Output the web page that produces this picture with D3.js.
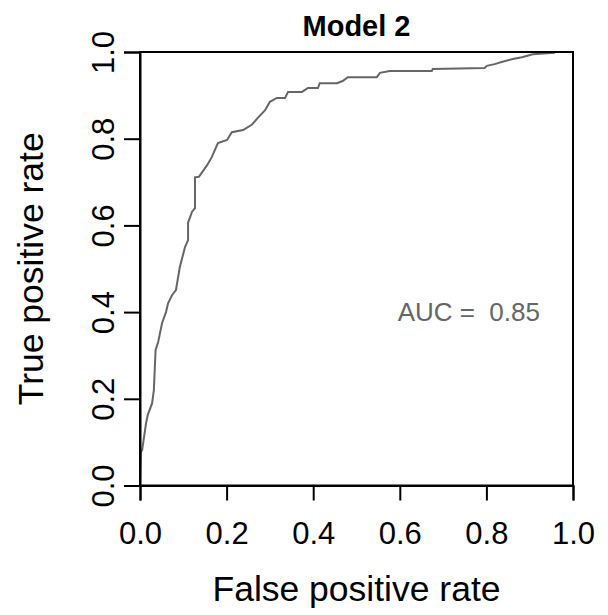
<!DOCTYPE html>
<html>
<head>
<meta charset="utf-8">
<script src="https://cdn.jsdelivr.net/npm/d3@7"></script>
<style>
  body { margin: 0; background: #fff; }
  text { font-family: "Liberation Sans", Arial, sans-serif; }
</style>
</head>
<body>
<div id="chart"></div>
<script>
// ROC curve points
const fpr = [0, 0.002, 0.005, 0.014, 0.018, 0.028, 0.032, 0.036, 0.042, 0.051, 0.060, 0.065, 0.074, 0.083,
  0.092, 0.104, 0.111, 0.111, 0.120, 0.127, 0.127, 0.136, 0.155, 0.166, 0.180, 0.201, 0.212, 0.238, 0.258,
  0.272, 0.289, 0.300, 0.316, 0.335, 0.342, 0.374, 0.388, 0.411, 0.415, 0.455, 0.468, 0.480, 0.547, 0.554,
  0.577, 0.674, 0.676, 0.796, 0.801, 0.819, 0.835, 0.861, 0.882, 0.907, 0.958];
const tpr = [0, 0.077, 0.082, 0.144, 0.163, 0.190, 0.220, 0.313, 0.331, 0.375, 0.400, 0.421, 0.439, 0.451,
  0.504, 0.550, 0.566, 0.606, 0.631, 0.640, 0.711, 0.712, 0.739, 0.758, 0.790, 0.797, 0.815, 0.820, 0.832,
  0.848, 0.866, 0.885, 0.894, 0.894, 0.908, 0.908, 0.917, 0.917, 0.928, 0.928, 0.933, 0.942, 0.942, 0.952,
  0.956, 0.956, 0.961, 0.963, 0.968, 0.972, 0.977, 0.984, 0.988, 0.995, 0.998];
const ticks = [0, 0.2, 0.4, 0.6, 0.8, 1.0];
const auc = 0.85;

const width = 608, height = 615;
const margin = {top: 52, right: 35, bottom: 129.5, left: 140};

const svg = d3.select("#chart").append("svg")
    .attr("width", width)
    .attr("height", height);

const x = d3.scaleLinear().domain([0, 1]).range([margin.left, width - margin.right]);
const y = d3.scaleLinear().domain([0, 1]).range([height - margin.bottom, margin.top]);

const pts = fpr.map((d, i) => [d, tpr[i]]);

// courbe
svg.append("path")
    .datum(pts)
    .attr("fill", "none")
    .attr("stroke", "#666666")
    .attr("stroke-width", 2)
    .attr("d", d3.line().x(d => x(d[0])).y(d => y(d[1])));

// cadre
svg.append("rect")
    .attr("x", x(0)).attr("y", y(1))
    .attr("width", x(1) - x(0)).attr("height", y(0) - y(1))
    .attr("fill", "none").attr("stroke", "#000").attr("stroke-width", 2);

// axe x
const xAxis = svg.append("g")
    .attr("transform", "translate(0," + y(0) + ")")
    .call(d3.axisBottom(x).tickValues(ticks).tickFormat(d3.format(".1f")).tickSize(15).tickPadding(21));
xAxis.select(".domain").attr("stroke-width", 2);
xAxis.selectAll(".tick line").attr("stroke-width", 2);
xAxis.selectAll("text").attr("font-size", 31).attr("fill", "#000");

// axe y (etiquettes tournees)
const yAxis = svg.append("g")
    .attr("transform", "translate(" + x(0) + ",0)")
    .call(d3.axisLeft(y).tickValues(ticks).tickFormat(d3.format(".1f")).tickSize(16));
yAxis.select(".domain").attr("stroke-width", 2);
yAxis.selectAll(".tick line").attr("stroke-width", 2);
yAxis.selectAll("text")
    .attr("font-size", 31).attr("fill", "#000")
    .attr("x", null).attr("dy", null)
    .attr("text-anchor", "middle")
    .attr("transform", "translate(-26,0) rotate(-90)");

// titres
svg.append("text")
    .attr("x", (x(0) + x(1)) / 2).attr("y", 36)
    .attr("text-anchor", "middle")
    .attr("font-size", 29).attr("font-weight", "bold")
    .text("Model 2");

svg.append("text")
    .attr("x", (x(0) + x(1)) / 2).attr("y", 601)
    .attr("text-anchor", "middle")
    .attr("font-size", 35.5)
    .text("False positive rate");

svg.append("text")
    .attr("transform", "translate(43," + (y(0) + y(1)) / 2 + ") rotate(-90)")
    .attr("text-anchor", "middle")
    .attr("font-size", 35.5)
    .text("True positive rate");

svg.append("text")
    .attr("x", x(0.595)).attr("y", y(0.4))
    .attr("dy", "0.35em")
    .attr("text-anchor", "start")
    .attr("font-size", 26)
    .attr("fill", "#666666")
    .style("white-space", "pre")
    .text("AUC =  " + auc.toFixed(2));
</script>
</body>
</html>
